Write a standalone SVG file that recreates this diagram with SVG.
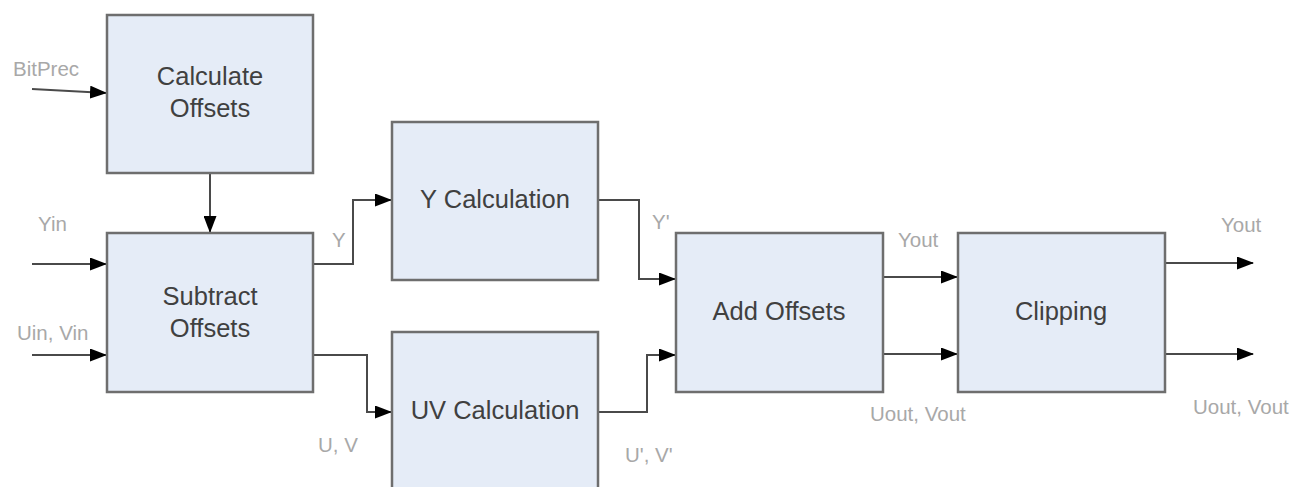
<svg xmlns="http://www.w3.org/2000/svg" width="1294" height="487" viewBox="0 0 1294 487">
<style>
.box{fill:#e5ecf7;stroke:#6e6e6e;stroke-width:2.5}
.nt{font-family:"Liberation Sans",Arial,sans-serif;font-size:25.5px;fill:#404040;text-anchor:middle}
.el{font-family:"Liberation Sans",Arial,sans-serif;font-size:20.5px;fill:#a8a8a8}
.c{fill:none;stroke:#4a4a4a;stroke-width:2;marker-end:url(#ah)}
</style>
<defs>
<marker id="ah" markerWidth="17" markerHeight="13" refX="16" refY="6.5" orient="auto" markerUnits="userSpaceOnUse">
<path d="M0,0 L17,6.5 L0,13 Z" fill="#000"/>
</marker>
</defs>
<rect width="1294" height="487" fill="#fff"/>
<g id="connectors">
<path class="c" d="M32,89 L106,93"/>
<path class="c" d="M210,173 L210,232"/>
<path class="c" d="M32,264 L106,264"/>
<path class="c" d="M32,355 L106,355"/>
<path class="c" d="M313,264 L353,264 L353,200 L391,200"/>
<path class="c" d="M313,355 L367,355 L367,412 L391,412"/>
<path class="c" d="M598,200 L639,200 L639,279 L675,279"/>
<path class="c" d="M598,412 L647,412 L647,355 L675,355"/>
<path class="c" d="M883,277 L957,277"/>
<path class="c" d="M883,354 L957,354"/>
<path class="c" d="M1165,263 L1253,263"/>
<path class="c" d="M1165,354 L1253,354"/>
<text class="el" x="13" y="76">BitPrec</text>
<text class="el" x="38" y="231">Yin</text>
<text class="el" x="17" y="340">Uin, Vin</text>
<text class="el" x="332" y="247">Y</text>
<text class="el" x="318" y="452">U, V</text>
<text class="el" x="652" y="229">Y'</text>
<text class="el" x="625" y="462">U', V'</text>
<text class="el" x="898" y="247">Yout</text>
<text class="el" x="870" y="421">Uout, Vout</text>
<text class="el" x="1221" y="232">Yout</text>
<text class="el" x="1193" y="414">Uout, Vout</text>
</g>
<g id="calc-offsets">
<rect class="box" x="107" y="15" width="206" height="158"/>
<text class="nt" x="210" y="85">Calculate</text>
<text class="nt" x="210" y="117">Offsets</text>
</g>
<g id="subtract-offsets">
<rect class="box" x="107" y="233" width="206" height="159"/>
<text class="nt" x="210" y="305">Subtract</text>
<text class="nt" x="210" y="337">Offsets</text>
</g>
<g id="y-calc">
<rect class="box" x="392" y="122" width="206" height="158"/>
<text class="nt" x="495" y="208">Y Calculation</text>
</g>
<g id="uv-calc">
<rect class="box" x="392" y="332" width="206" height="170"/>
<text class="nt" x="495" y="419">UV Calculation</text>
</g>
<g id="add-offsets">
<rect class="box" x="676" y="233" width="207" height="159"/>
<text class="nt" x="779" y="320">Add Offsets</text>
</g>
<g id="clipping">
<rect class="box" x="958" y="233" width="207" height="159"/>
<text class="nt" x="1061" y="320">Clipping</text>
</g>
</svg>
